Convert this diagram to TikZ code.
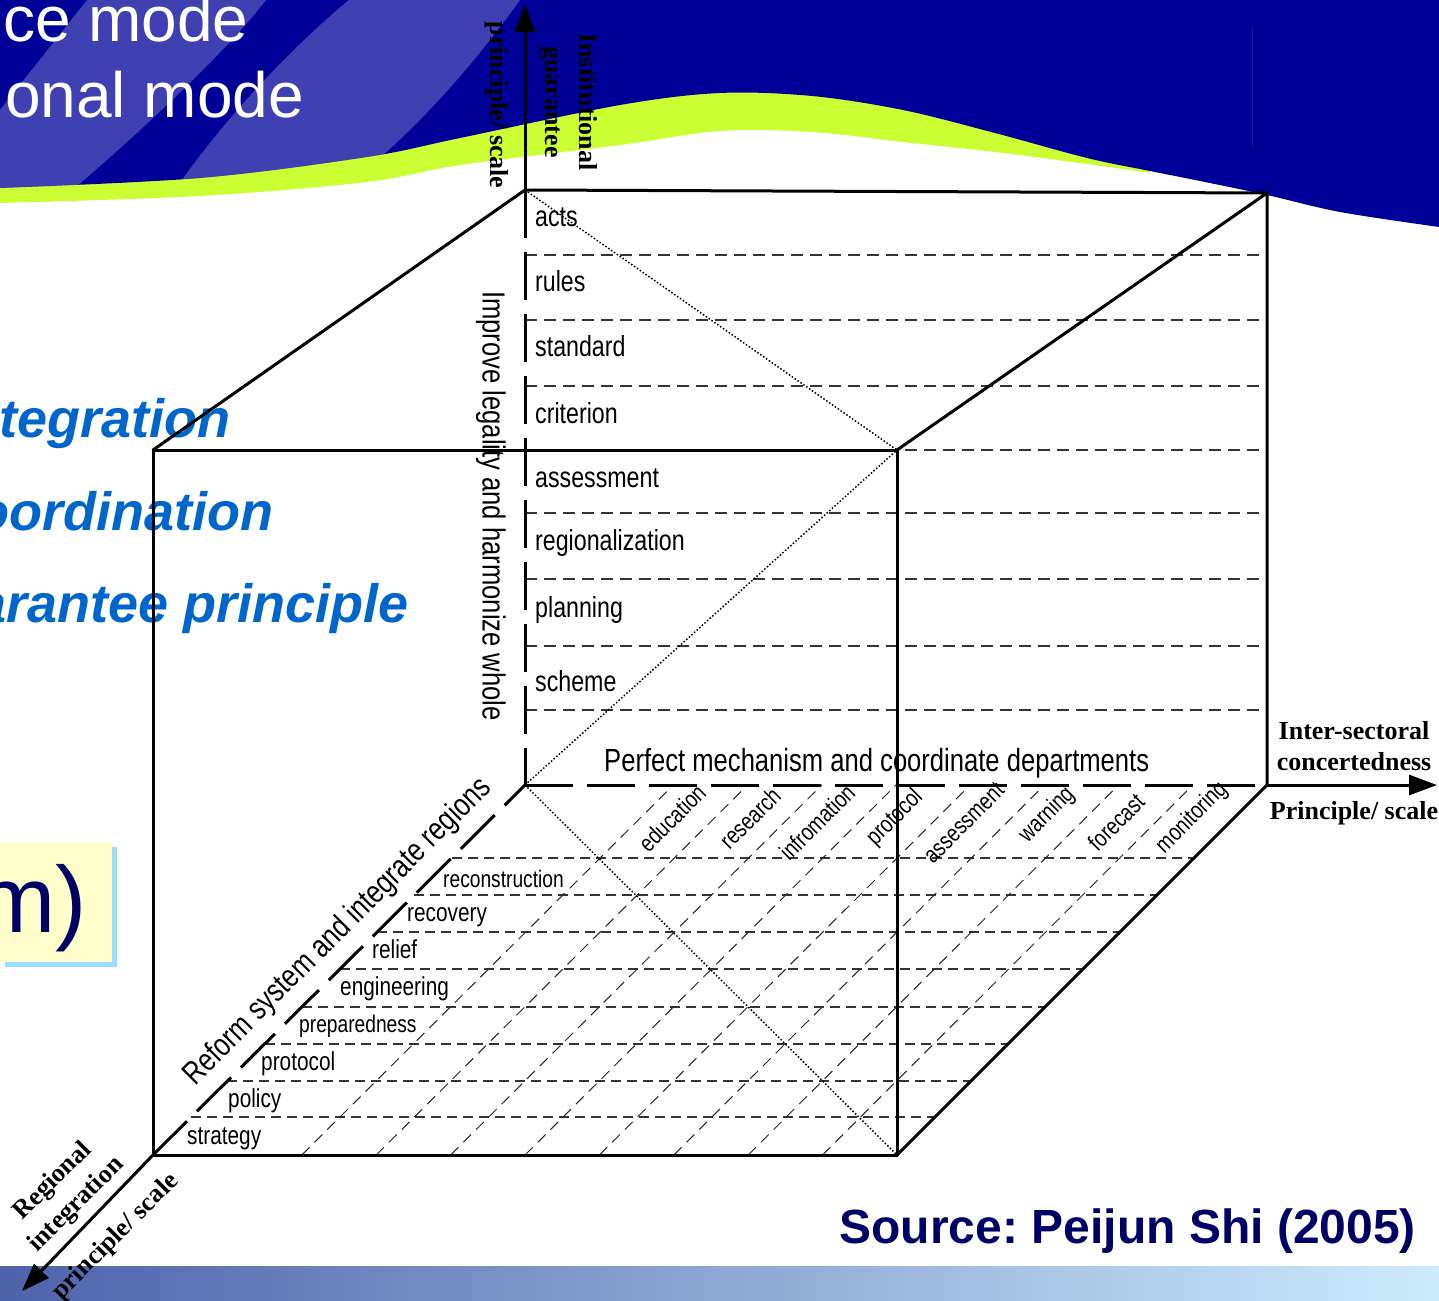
\documentclass[tikz,border=0pt]{standalone}
\usepackage{fontspec}
\setmainfont{Liberation Sans}
\newfontfamily\narrowfont[FakeStretch=0.8]{Liberation Sans}
\newfontfamily\timesfont{Liberation Serif}
\usetikzlibrary{arrows.meta}
\definecolor{slideblue}{RGB}{0,0,153}
\definecolor{limeband}{RGB}{204,255,51}
\definecolor{titleblue}{RGB}{0,102,204}
\definecolor{navytext}{RGB}{0,0,102}
\definecolor{boxyellow}{RGB}{255,255,204}
\definecolor{shadowblue}{RGB}{153,221,255}
\definecolor{barleft}{RGB}{78,98,170}
\definecolor{barmid}{RGB}{160,192,228}
\definecolor{barright}{RGB}{205,235,252}
\definecolor{faintline}{RGB}{25,25,160}
\def\bluewave{(0,0) -- (1439,0) -- plot[smooth,tension=0.55] coordinates {(1439,227) (1340,212) (1267,195) (1200,181) (1150,171) (1087,158) (995,133) (903,110) (812,96) (720,93) (620,105) (460,138) (367,157) (200,178) (0,188)} -- cycle}
\frenchspacing
\begin{document}
\begin{tikzpicture}[x=1pt,y=-1pt,
  edgeline/.style={line width=3pt, line cap=round, line join=round},
  hiddenline/.style={line width=3pt, dash pattern=on 48pt off 14pt},
  walldash/.style={line width=1.2pt, dash pattern=on 12pt off 7pt, black!80},
  floordash/.style={line width=1.2pt, dash pattern=on 10pt off 6pt, black!80},
  slantdash/.style={line width=1pt, dash pattern=on 11pt off 7pt, black!85},
  dotline/.style={line width=1.5pt, dash pattern=on 1.5pt off 2pt},
  axisarrow/.style={line width=3pt, -{Triangle[length=28pt,width=20pt]}},
  walllabel/.style={font=\narrowfont\fontsize{29}{32}\selectfont, anchor=base west, inner sep=0},
  rowlabel/.style={font=\narrowfont\fontsize{26}{30}\selectfont, anchor=base west, inner sep=0},
  rowsmall/.style={font=\narrowfont\fontsize{24}{28}\selectfont, anchor=base west, inner sep=0},
  collabel/.style={font=\narrowfont\fontsize{24}{28}\selectfont, rotate=45, inner sep=0},
  phrase/.style={font=\narrowfont\fontsize{32}{36}\selectfont, inner sep=0},
  axislabel/.style={font=\timesfont\bfseries\fontsize{26}{32}\selectfont, align=center, inner sep=0},
  titletext/.style={font=\fontsize{64}{70}\selectfont, text=white, inner sep=0, anchor=base west},
  bluetext/.style={font=\bfseries\itshape\fontsize{54}{60}\selectfont, text=titleblue, inner sep=0, anchor=base east}
]
\useasboundingbox (0,0) rectangle (1439,1300);
% background
\fill[white] (0,0) rectangle (1439,1300);
\fill[limeband] (0,0) -- (1150,0) -- plot[smooth,tension=0.55] coordinates {(1150,173) (1087,164) (995,152) (903,142) (812,132) (720,131) (620,145) (460,165) (367,182) (200,196) (0,203)} -- cycle;
\fill[slideblue] \bluewave;
\begin{scope}
  \clip \bluewave;
  \fill[white,opacity=0.25] (87,0) -- (266,0) .. controls (220,60) and (120,150) .. (55,205) -- (0,205) -- (0,110) -- cycle;
  \fill[white,opacity=0.25] (349,0) -- (520,0) .. controls (470,70) and (400,150) .. (320,205) -- (165,205) .. controls (220,120) and (300,40) .. (349,0) -- cycle;
\end{scope}
\draw[line width=0.6pt, faintline] (1252,28) -- (1252,147);
\node[titletext] (ttl1) at (3,42) {ce mode};
\node[titletext] (ttl2) at (5,118) {onal mode};
\node[bluetext] (pr1) at (231,437) {tegration};
\node[bluetext] (pr2) at (274,530) {oordination};
\node[bluetext] (pr3) at (409,622) {arantee principle};
\fill[shadowblue] (5,847) rectangle (117,967);
\fill[boxyellow] (-5,842) rectangle (112,962);
\node[anchor=base west, inner sep=0, font=\fontsize{94}{100}\selectfont, text=navytext] (mparen) at (-23,932) {m)};
\shade[left color=barleft, middle color=barmid, right color=barright] (0,1266) rectangle (1439,1300);
\node[anchor=base east, font=\bfseries\fontsize{48}{52}\selectfont, text=navytext, inner sep=0] (src) at (1416,1243) {Source: Peijun Shi (2005)};
% cube vertices
\coordinate (BTL) at (525,190);
\coordinate (BTR) at (1267,193);
\coordinate (BBL) at (525,785);
\coordinate (BBR) at (1267,785);
\coordinate (FTL) at (153,450);
\coordinate (FTR) at (897,450);
\coordinate (FBL) at (153,1155);
\coordinate (FBR) at (897,1155);
\coordinate (ZEnd) at (525,4);
\coordinate (XEnd) at (1437,785);
\coordinate (YEnd) at (22,1291);
% back wall grid
\foreach \yy in {255,320,386,450,513,579,646,710} \draw[walldash] (525,\yy) -- (1267,\yy);
% floor grid
\foreach \yy in {858,895,932,969,1007,1044,1081,1117} {
  \pgfmathsetmacro{\xl}{153+(1155-\yy)*1.0054}
  \pgfmathsetmacro{\xr}{897+(1155-\yy)}
  \draw[floordash] (\xl,\yy) -- (\xr,\yy);
}
\foreach \k in {2,...,9} {
  \pgfmathsetmacro{\xb}{153+74.4*\k}
  \pgfmathsetmacro{\xt}{525+74.2*\k}
  \draw[slantdash] (\xb,1155) -- (\xt,785);
}
% dotted diagonals
\draw[dotline] (BTL) -- (FTR);
\draw[dotline] (BBL) -- (FTR);
\draw[dotline] (BBL) -- (FBR);
% hidden edges
\draw[hiddenline] (BTL) -- (BBL);
\draw[hiddenline] (BBL) -- (BBR);
\draw[hiddenline] (FBL) -- (BBL);
% visible edges
\draw[edgeline] (FTL) -- (FTR) -- (FBR) -- (FBL) -- cycle;
\draw[edgeline] (FTL) -- (BTL) -- (BTR) -- (FTR);
\draw[edgeline] (BTR) -- (BBR) -- (FBR);
% axes
\draw[axisarrow] (BTL) -- (ZEnd);
\draw[axisarrow] (BBR) -- (XEnd);
\draw[axisarrow] (FBL) -- (YEnd);
% wall labels
\node[walllabel] (w1) at (535,226) {acts};
\node[walllabel] (w2) at (535,291) {rules};
\node[walllabel] (w3) at (535,356) {standard};
\node[walllabel] (w4) at (535,423) {criterion};
\node[walllabel] (w5) at (535,487) {assessment};
\node[walllabel] (w6) at (535,550) {regionalization};
\node[walllabel] (w7) at (535,617) {planning};
\node[walllabel] (w8) at (535,691) {scheme};
\node[phrase, anchor=base west] (perfect) at (604,771) {Perfect mechanism and coordinate departments};
\node[phrase, rotate=-90] (improve) at (491,506) {Improve legality and harmonize whole};
\node[phrase, rotate=45] (reform) at (338,932) {Reform system and integrate regions};
% floor row labels
\node[rowlabel] (r1) at (187,1144) {strategy};
\node[rowlabel] (r2) at (228,1107) {policy};
\node[rowlabel] (r3) at (261,1070) {protocol};
\node[rowsmall] (r4) at (299,1032) {preparedness};
\node[rowlabel] (r5) at (340,995) {engineering};
\node[rowlabel] (r6) at (372,958) {relief};
\node[rowlabel] (r7) at (407,921) {recovery};
\node[rowsmall] (r8) at (443,887) {reconstruction};
% floor column labels
\node[collabel] (c1) at (672,818) {education};
\node[collabel] (c2) at (750,818) {research};
\node[collabel] (c3) at (817,822) {infromation};
\node[collabel] (c4) at (895,818) {protocol};
\node[collabel] (c5) at (964,823) {assessment};
\node[collabel] (c6) at (1047,815) {warning};
\node[collabel] (c7) at (1116,822) {forecast};
\node[collabel] (c8) at (1192,818) {monitoring};
% axis labels
\node[axislabel, rotate=-90] (zscale) at (497,105) {principle/ scale};
\node[axislabel, rotate=-90, font=\timesfont\bfseries\fontsize{26}{34}\selectfont] (zname) at (569,102) {Institutional\\guarantee};
\node[axislabel, font=\timesfont\bfseries\fontsize{26}{31}\selectfont] (xname) at (1354,746) {Inter-sectoral\\concertedness};
\node[axislabel] (xscale) at (1354,813) {Principle/ scale};
\node[axislabel, rotate=45, font=\timesfont\bfseries\fontsize{26}{33}\selectfont] (yname) at (65,1193) {Regional\\integration};
\node[axislabel, rotate=45] (yscale) at (116,1237) {principle/ scale};
\end{tikzpicture}
\end{document}
